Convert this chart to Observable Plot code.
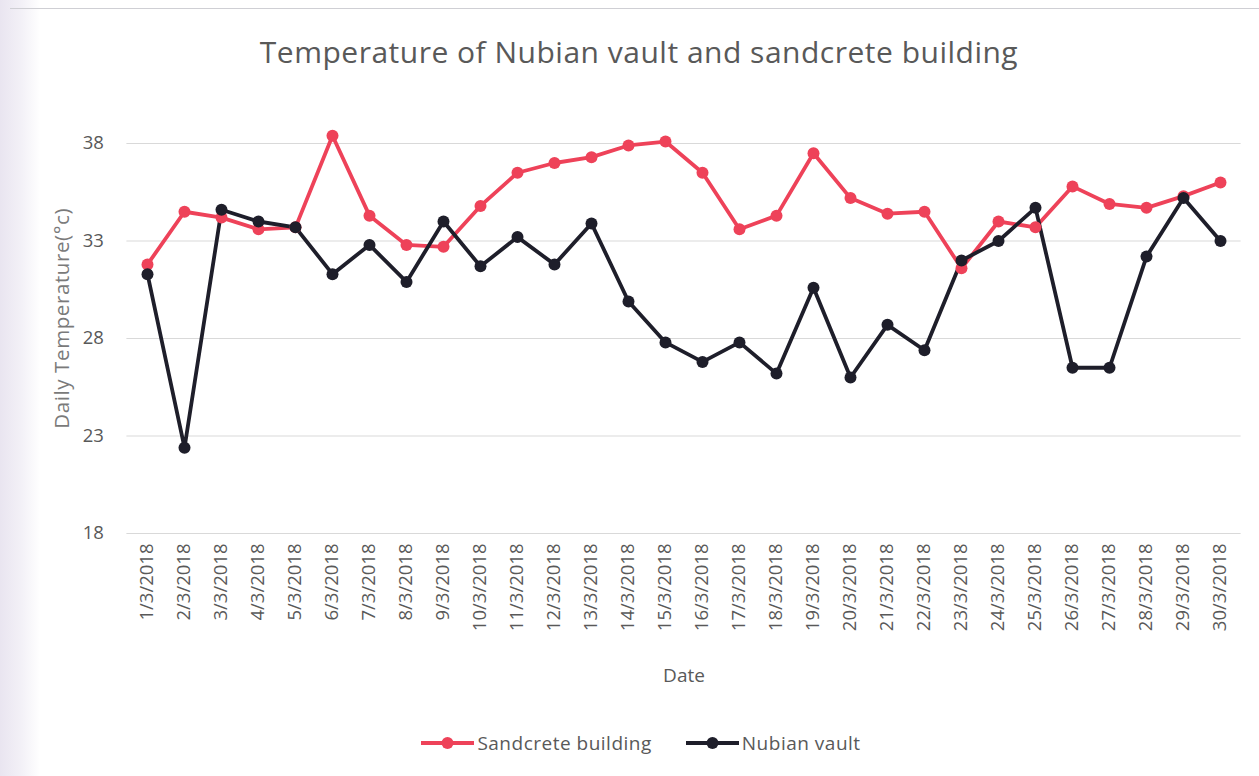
<!DOCTYPE html>
<html>
<head>
<meta charset="utf-8">
<script src="https://cdn.jsdelivr.net/npm/d3@7"></script>
<script src="https://cdn.jsdelivr.net/npm/@observablehq/plot@0.6"></script>
<style>
  html, body { margin: 0; padding: 0; }
  body {
    width: 1259px; height: 776px; position: relative; overflow: hidden;
    background: linear-gradient(to right, #e9e5f0 0px, #f3f1f7 22px, #ffffff 40px);
    font-family: "Open Sans", sans-serif;
  }
  #topline { position: absolute; left: 10px; right: 0; top: 8px; height: 1px; background: #cfcfd4; }
  #title {
    position: absolute; left: 0; width: 1278px; top: 31px; text-align: center;
    font-size: 30px; letter-spacing: 0.5px; color: #595959; font-weight: 400; line-height: 42px;
  }
  #chart { position: absolute; left: 0; top: 80px; }
  #legend {
    position: absolute; top: 729px; left: 0; width: 1282px; display: flex; justify-content: center;
    gap: 34px; font-size: 19px; letter-spacing: 0.5px; color: #595959; line-height: 28px;
  }
  .item { display: flex; align-items: center; }
  .item svg { margin-right: 3px; }
</style>
</head>
<body>
<div id="topline"></div>
<div id="title">Temperature of Nubian vault and sandcrete building</div>
<div id="chart"></div>
<div id="legend"></div>
<script>
const dates = ["1/3/2018","2/3/2018","3/3/2018","4/3/2018","5/3/2018","6/3/2018","7/3/2018","8/3/2018","9/3/2018","10/3/2018",
  "11/3/2018","12/3/2018","13/3/2018","14/3/2018","15/3/2018","16/3/2018","17/3/2018","18/3/2018","19/3/2018","20/3/2018",
  "21/3/2018","22/3/2018","23/3/2018","24/3/2018","25/3/2018","26/3/2018","27/3/2018","28/3/2018","29/3/2018","30/3/2018"];
const sandcrete = [31.8, 34.5, 34.2, 33.6, 33.7, 38.4, 34.3, 32.8, 32.7, 34.8,
  36.5, 37.0, 37.3, 37.9, 38.1, 36.5, 33.6, 34.3, 37.5, 35.2,
  34.4, 34.5, 31.6, 34.0, 33.7, 35.8, 34.9, 34.7, 35.3, 36.0];
const nubian = [31.3, 22.4, 34.6, 34.0, 33.7, 31.3, 32.8, 30.9, 34.0, 31.7,
  33.2, 31.8, 33.9, 29.9, 27.8, 26.8, 27.8, 26.2, 30.6, 26.0,
  28.7, 27.4, 32.0, 33.0, 34.7, 26.5, 26.5, 32.2, 35.2, 33.0];
const seriesNames = ["Sandcrete building", "Nubian vault"];
const seriesColors = ["#ee4259", "#1e1e2a"];
const yTicks = [18, 23, 28, 33, 38];
const yLabel = "Daily Temperature(°c)";

const rows = [];
dates.forEach((d, i) => {
  rows.push({date: d, value: sandcrete[i], series: seriesNames[0]});
  rows.push({date: d, value: nubian[i], series: seriesNames[1]});
});

const chart = Plot.plot({
  width: 1259,
  height: 620,
  marginLeft: 126.4,
  marginRight: 18.4,
  marginTop: 4.5,
  marginBottom: 167,
  style: {fontFamily: "'Open Sans', sans-serif", color: "#595959", background: "transparent"},
  x: {type: "point", domain: dates, padding: 0.5, label: null},
  y: {domain: [18, 41], label: null},
  color: {domain: seriesNames, range: seriesColors},
  marks: [
    Plot.gridY(yTicks, {stroke: "#d9d9d9", strokeOpacity: 1, strokeWidth: 1}),
    Plot.axisY(yTicks, {tickSize: 0, tickPadding: 23, fontSize: 18.5, label: null}),
    Plot.axisX({tickSize: 0, tickRotate: -90, tickPadding: 10, fontSize: 18.5, label: null}),
    Plot.text([yLabel], {frameAnchor: "left", textAnchor: "middle", lineAnchor: "middle", dx: -64, dy: 9, rotate: -90, fontSize: 20.5, fill: "#7a7a7a"}),
    Plot.text(["Date"], {frameAnchor: "bottom", textAnchor: "middle", lineAnchor: "middle", dy: 142, fontSize: 19, fill: "#595959"}),
    Plot.line(rows, {x: "date", y: "value", z: "series", stroke: "series", strokeWidth: 3.8}),
    Plot.dot(rows, {x: "date", y: "value", fill: "series", r: 6})
  ]
});
d3.select(chart).selectAll("text").filter(function() { return this.textContent === yLabel; })
  .style("letter-spacing", "0.6px");
document.getElementById("chart").appendChild(chart);

const legend = document.getElementById("legend");
seriesNames.forEach((name, i) => {
  const item = document.createElement("div");
  item.className = "item";
  item.innerHTML = `<svg width="53" height="14"><line x1="0" y1="7" x2="53" y2="7" stroke="${seriesColors[i]}" stroke-width="3.8"/><circle cx="26.5" cy="7" r="6" fill="${seriesColors[i]}"/></svg><span>${name}</span>`;
  legend.appendChild(item);
});
</script>
</body>
</html>
